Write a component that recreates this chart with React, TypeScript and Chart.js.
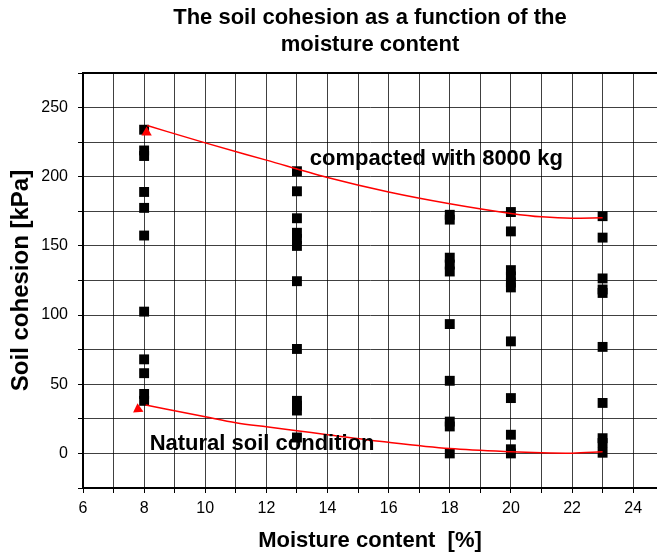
import React, { useEffect, useRef } from "react";
import { Chart, registerables } from "chart.js";

Chart.register(...registerables);

// ---- data ----
const moistureLevels = [8, 13, 18, 20, 23];
const cohesionAt8 = [234, 219, 215, 189, 177.5, 157.5, 102.5, 68, 58, 43, 38];
const cohesionAt13 = [204, 189.5, 170, 159.5, 155, 150, 124.5, 75.5, 38, 34.5, 31, 11.5];
const cohesionAt18 = [172.5, 169, 141.5, 136.5, 131.5, 93.5, 52.5, 23, 19.5, 0];
const cohesionAt20 = [174.5, 160.5, 132.5, 128, 123.5, 120, 81, 40, 13.5, 3, 0];
const cohesionAt23 = [171.5, 156, 126.5, 118.5, 116, 77, 36.5, 11, 7.5, 0.5];
const cohesionColumns = [cohesionAt8, cohesionAt13, cohesionAt18, cohesionAt20, cohesionAt23];

const compactedFitX = [8.1, 10, 12, 14, 16, 18, 20, 21, 22, 23];
const compactedFitY = [237, 224.5, 212, 199.5, 189, 180.5, 173.5, 171, 170, 170.3];
const naturalFitX = [8.05, 10, 11, 12, 13, 14, 16, 18, 20, 21, 22, 23];
const naturalFitY = [35, 26.5, 22.2, 19.2, 16.4, 13.5, 8, 3.5, 1.2, 0.5, 0.2, 1.2];

const markerX = [8.08, 7.8];
const markerY = [232, 32];
const markerRotation = [0, 235];

const titleLines = ["The soil cohesion as a function of the", "moisture content"];
const xTitle = "Moisture content  [%]";
const yTitle = "Soil cohesion [kPa]";
const annotationTexts = ["compacted with 8000 kg", "Natural soil condition"];
const annotationX = [13.42, 8.18];
const annotationY = [208.5, 2.4];

const FONT = "'Liberation Sans', Arial, Helvetica, sans-serif";

export default function App() {
  const ref = useRef<HTMLCanvasElement | null>(null);

  useEffect(() => {
    if (!ref.current) return;

    const scatterPoints: { x: number; y: number }[] = [];
    moistureLevels.forEach((m, i) => {
      cohesionColumns[i].forEach((v) => scatterPoints.push({ x: m, y: v }));
    });

    const decorations = {
      id: "decorations",
      afterDraw(chart: any) {
        const { ctx, chartArea, scales } = chart;
        ctx.save();
        // top frame line
        ctx.strokeStyle = "#000";
        ctx.lineWidth = 2;
        ctx.beginPath();
        ctx.moveTo(chartArea.left, chartArea.top);
        ctx.lineTo(chartArea.right, chartArea.top);
        ctx.stroke();
        // chart title, centred over the plot area
        ctx.fillStyle = "#000";
        ctx.font = `bold 22px ${FONT}`;
        ctx.textAlign = "center";
        ctx.textBaseline = "middle";
        const cx = (chartArea.left + chartArea.right) / 2;
        titleLines.forEach((t, i) => ctx.fillText(t, cx, 18 + i * 27));
        // annotations
        ctx.textAlign = "left";
        ctx.textBaseline = "alphabetic";
        annotationTexts.forEach((t, i) => {
          ctx.fillText(t, scales.x.getPixelForValue(annotationX[i]), scales.y.getPixelForValue(annotationY[i]));
        });
        ctx.restore();
      },
    };

    const chart = new Chart(ref.current, {
      type: "scatter",
      data: {
        datasets: [
          {
            label: "compacted fit",
            data: compactedFitX.map((x, i) => ({ x, y: compactedFitY[i] })),
            showLine: true,
            borderColor: "#ff0000",
            borderWidth: 1.5,
            pointRadius: 0,
            cubicInterpolationMode: "monotone",
            order: 0,
          },
          {
            label: "natural fit",
            data: naturalFitX.map((x, i) => ({ x, y: naturalFitY[i] })),
            showLine: true,
            borderColor: "#ff0000",
            borderWidth: 1.5,
            pointRadius: 0,
            cubicInterpolationMode: "monotone",
            order: 1,
          },
          {
            label: "markers",
            data: markerX.map((x, i) => ({ x, y: markerY[i] })),
            pointStyle: "triangle",
            pointRadius: 6,
            pointRotation: (c: any) => markerRotation[c.dataIndex] ?? 0,
            backgroundColor: "#ff0000",
            borderColor: "#ff0000",
            borderWidth: 0,
            order: 2,
          },
          {
            label: "measurements",
            data: scatterPoints,
            pointStyle: "rect",
            pointRadius: 7,
            backgroundColor: "#000",
            borderColor: "#000",
            borderWidth: 0,
            order: 3,
          },
        ],
      },
      options: {
        responsive: false,
        animation: false,
        events: [],
        layout: { autoPadding: false, padding: { top: 73, left: 0, right: 0, bottom: 0 } },
        plugins: {
          legend: { display: false },
          tooltip: { enabled: false },
          title: { display: false },
        },
        scales: {
          x: {
            type: "linear",
            min: 6,
            max: 24.78,
            afterFit: (s: any) => {
              s.height = 70;
            },
            ticks: {
              stepSize: 1,
              includeBounds: false,
              autoSkip: false,
              maxRotation: 0,
              color: "#000",
              padding: 6,
              font: { family: FONT, size: 16 },
              callback: (v: any) => (Number.isInteger(v) ? (v % 2 === 0 ? String(v) : "") : null),
            },
            grid: { color: "rgba(0,0,0,0.75)", lineWidth: 1, tickLength: 5, tickColor: "#000" },
            border: { color: "#000", width: 2 },
            title: {
              display: true,
              text: xTitle,
              color: "#000",
              font: { family: FONT, size: 22, weight: "bold", lineHeight: 1.2 },
              padding: { top: 0, bottom: 4 },
            },
          },
          y: {
            type: "linear",
            min: -25,
            max: 275,
            afterFit: (s: any) => {
              s.width = 83;
            },
            ticks: {
              stepSize: 25,
              color: "#000",
              padding: 10,
              font: { family: FONT, size: 16 },
              callback: (v: any) => (v % 50 === 0 ? String(v) : ""),
            },
            grid: { color: "rgba(0,0,0,0.75)", lineWidth: 1, tickLength: 5, tickColor: "#000" },
            border: { color: "#000", width: 2 },
            title: {
              display: true,
              text: yTitle,
              color: "#000",
              font: { family: FONT, size: 24, weight: "bold", lineHeight: 1.2 },
              padding: { top: 7, bottom: 0 },
            },
          },
        },
      },
      plugins: [decorations],
    } as any);

    return () => chart.destroy();
  }, []);

  return (
    <div style={{ position: "absolute", left: 0, top: 0, width: 657, height: 558, background: "#fff" }}>
      <canvas ref={ref} width={657} height={558} style={{ display: "block" }} />
    </div>
  );
}
